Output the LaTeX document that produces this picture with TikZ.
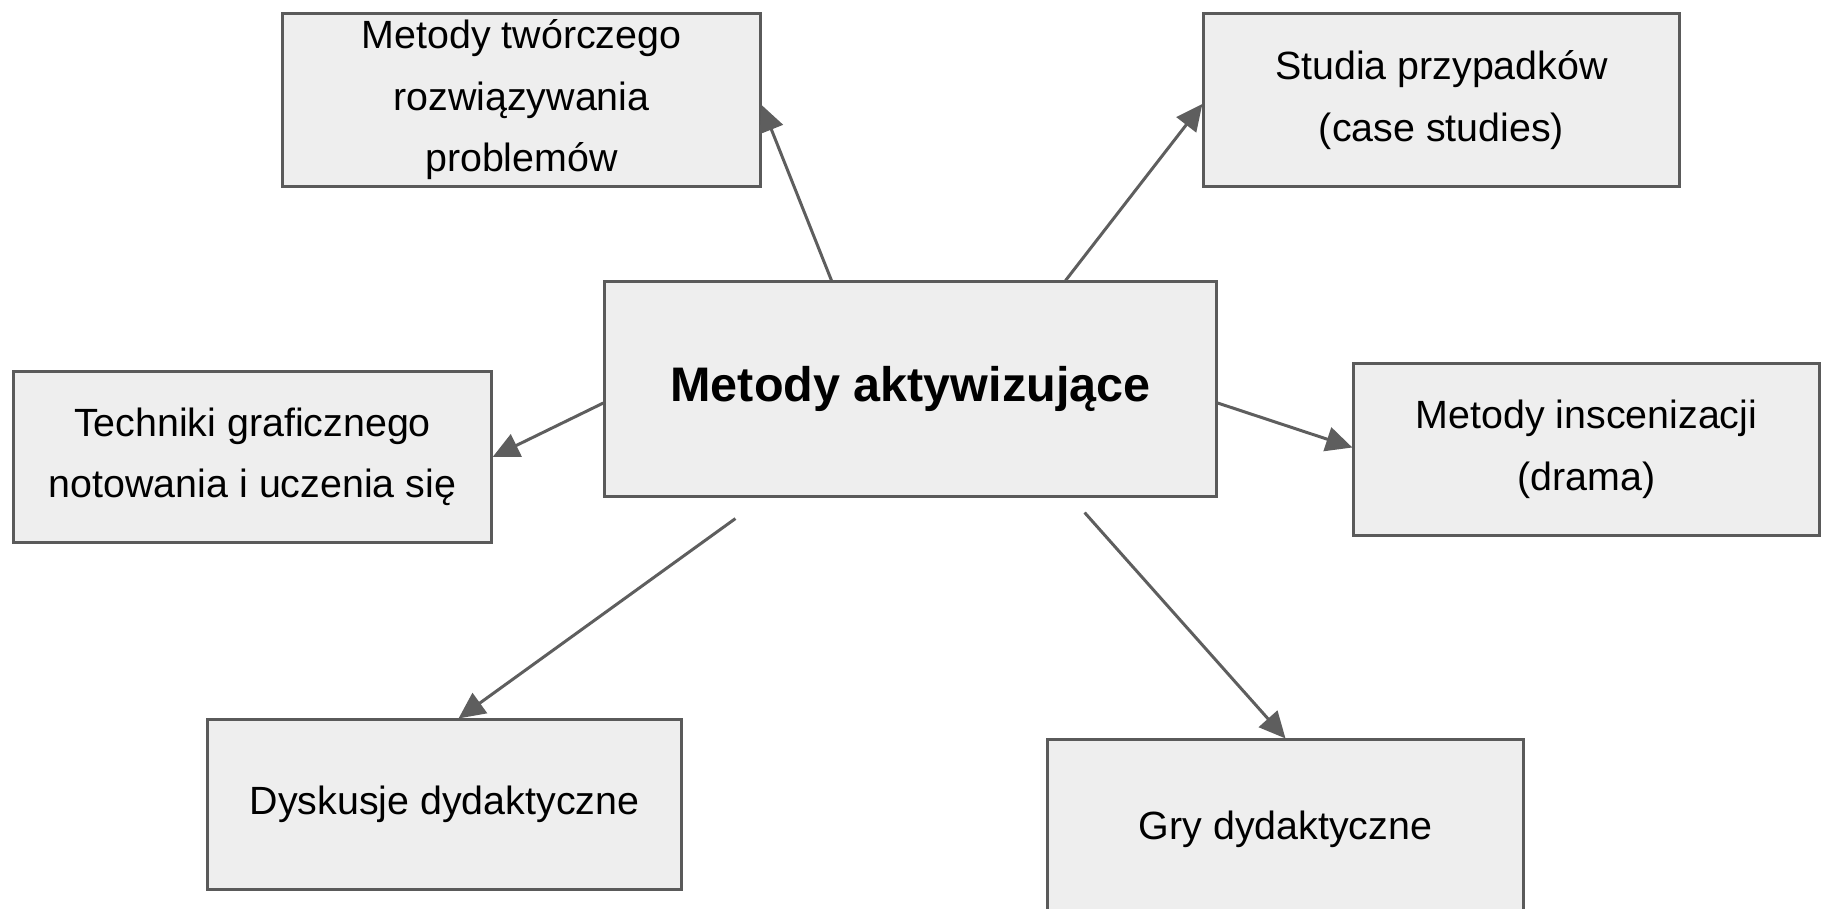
\documentclass[tikz,border=0pt]{standalone}
\usepackage{fontspec}
\setmainfont{Liberation Sans}
\usetikzlibrary{arrows.meta}

\definecolor{boxfill}{HTML}{EEEEEE}
\definecolor{boxline}{HTML}{5A5A5A}
\definecolor{arrowgray}{HTML}{5E5E5E}

\begin{document}
\begin{tikzpicture}[x=0.01cm, y=-0.01cm,
			% Define the style for the nodes
			box/.style={rectangle, draw=boxline, fill=boxfill, line width=0.85pt, inner sep=0pt, align=center, font=\fontsize{11.2}{17.5}\selectfont},
			mainbox/.style={box, font=\fontsize{13.8}{17}\selectfont\bfseries},
			arr/.style={-{Triangle[length=7.5pt,width=7pt]}, draw=arrowgray, line width=0.85pt}
			]

			\useasboundingbox (0,0) rectangle (1821,909);
			\clip (0,0) rectangle (1821,909);

			\node[box, minimum width=4.77cm, minimum height=1.72cm] (tworcze) at (521.5,100) {Metody twórczego\\rozwiązywania\\problemów};
			\node[box, minimum width=4.75cm, minimum height=1.72cm] (studia) at (1441.5,100) {Studia przypadków\\(case studies)};
			\node[mainbox, minimum width=6.11cm, minimum height=2.14cm] (main) at (910.5,389) {Metody aktywizujące};
			\node[box, minimum width=4.77cm, minimum height=1.70cm] (techniki) at (252.5,457) {Techniki graficznego\\notowania i uczenia się};
			\node[box, minimum width=4.65cm, minimum height=1.71cm] (drama) at (1586.5,449.5) {Metody inscenizacji\\(drama)};
			\node[box, minimum width=4.73cm, minimum height=1.69cm] (dyskusje) at (444.5,804.5) {Dyskusje dydaktyczne};
			\node[box, minimum width=4.75cm, minimum height=1.78cm] (gry) at (1285.5,829) {Gry dydaktyczne};

			\draw[arr] ([xshift=2.28cm]main.north west) -- ([yshift=-0.05cm]tworcze.east);
			\draw[arr] ([xshift=4.62cm]main.north west) -- ([yshift=-0.04cm]studia.west);
			\draw[arr] ([yshift=-0.14cm]main.west) -- (techniki.east);
			\draw[arr] ([yshift=-0.14cm]main.east) -- ([yshift=0.02cm]drama.west);
			\draw[arr] ([xshift=1.32cm,yshift=-0.21cm]main.south west) -- ([xshift=2.52cm]dyskusje.north west);
			\draw[arr] ([xshift=4.81cm,yshift=-0.15cm]main.south west) -- (gry.north);

		\end{tikzpicture}
\end{document}
